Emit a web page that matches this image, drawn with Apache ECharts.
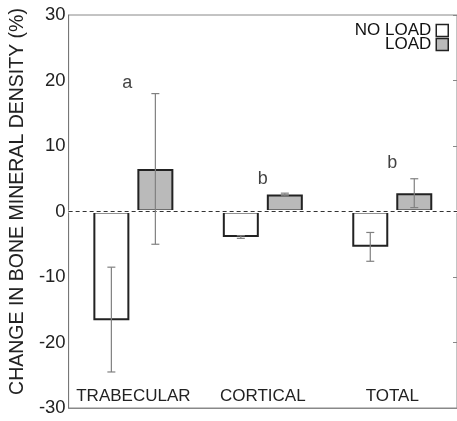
<!DOCTYPE html>
<html>
<head>
<meta charset="utf-8">
<script src="https://cdn.jsdelivr.net/npm/echarts@6/dist/echarts.min.js"></script>
<style>
  html, body { margin: 0; padding: 0; background: #fff; }
  #chart { width: 457px; height: 421px; }
</style>
</head>
<body>
<div id="chart"></div>
<script>
// 数据
var categories = ['TRABECULAR', 'CORTICAL', 'TOTAL'];
var noLoad = [-16.6, -3.9, -5.4];
var load = [6.5, 2.6, 2.8];
var noLoadLow = [-24.5, -4.1, -7.6];
var noLoadHigh = [-8.5, -3.7, -3.2];
var loadLow = [-5.0, 2.4, 0.6];
var loadHigh = [18.0, 2.8, 5.0];
var letters = ['a', 'b', 'b'];
var letterPos = [19.6, 4.9, 7.4];
var letterOffset = [-6, 0, 0];

var BAR_W = 36;
var GAP = 8;

var myChart = echarts.init(document.getElementById('chart'));

//误差线
function errData(lows, highs) {
    var out = [];
    lows.forEach(function(v, i) {
        out.push([i, v, highs[i]]);
    });
    return out;
}

function errRender(side) {
    return function(params, api) {
        var shift = side * (BAR_W / 2 + GAP / 2);
        var lo = api.coord([api.value(0), api.value(1)]);
        var hi = api.coord([api.value(0), api.value(2)]);
        var x = lo[0] + shift;
        var cap = 4;
        var st = { stroke: '#808080', lineWidth: 1.2 };
        return {
            type: 'group',
            children: [
                { type: 'line', shape: { x1: x, y1: lo[1], x2: x, y2: hi[1] }, style: st },
                { type: 'line', shape: { x1: x - cap, y1: lo[1], x2: x + cap, y2: lo[1] }, style: st },
                { type: 'line', shape: { x1: x - cap, y1: hi[1], x2: x + cap, y2: hi[1] }, style: st }
            ]
        };
    };
}

var option = {
    animation: false,
    textStyle: { fontFamily: 'Liberation Sans, Arial, sans-serif' },
    grid: { left: 66, right: -1, top: 15, bottom: 13, show: true, borderColor: '#888', borderWidth: 1 },
    legend: {
        orient: 'vertical',
        right: 3,
        top: 17,
        align: 'right',
        icon: 'rect',
        itemWidth: 12,
        itemHeight: 12,
        itemGap: -3,
        textStyle: { fontSize: 17, color: '#111', lineHeight: 14 },
        itemStyle: { borderWidth: 1.5, borderColor: '#222' },
        data: ['NO LOAD', 'LOAD']
    },
    xAxis: {
        type: 'category',
        data: categories,
        axisLine: { onZero: false, lineStyle: { color: '#888' } },
        axisTick: { show: false },
        axisLabel: { inside: true, interval: 0, margin: 3, fontSize: 17, color: '#222', verticalAlign: 'bottom' },
        splitLine: { show: false }
    },
    yAxis: [{
        type: 'value',
        min: -30,
        max: 30,
        interval: 10,
        name: 'CHANGE IN BONE MINERAL DENSITY (%)',
        nameLocation: 'middle',
        nameGap: 40,
        nameTextStyle: { fontSize: 19.5, color: '#222', padding: [0, 0, 0, 20] },
        axisLine: { show: true, lineStyle: { color: '#777' } },
        axisTick: { show: false },
        axisLabel: { fontSize: 18.5, color: '#222', margin: 3 },
        splitLine: { show: false }
    }, {
        type: 'value',
        position: 'right',
        min: -30,
        max: 30,
        interval: 10,
        axisLine: { show: true, lineStyle: { color: '#888' } },
        axisTick: { show: true, inside: true, length: 4, lineStyle: { color: '#888' } },
        axisLabel: { show: false },
        splitLine: { show: false }
    }],
    series: [{
        name: 'NO LOAD',
        type: 'bar',
        data: noLoad,
        barWidth: BAR_W,
        barGap: (GAP / BAR_W * 100) + '%',
        itemStyle: { color: '#fff', borderColor: '#222', borderWidth: 2, borderRadius: 0 },
        z: 2
    }, {
        name: 'LOAD',
        type: 'bar',
        data: load,
        barWidth: BAR_W,
        itemStyle: { color: '#bababa', borderColor: '#222', borderWidth: 2, borderRadius: 0 },
        //零线：先白线盖住柱子底边，再画虚线
        markLine: {
            silent: true,
            symbol: 'none',
            label: { show: false },
            data: [
                { yAxis: 0, lineStyle: { color: '#fff', type: 'solid', width: 3 } },
                { yAxis: 0, lineStyle: { color: '#333', type: [4, 3], width: 1 } }
            ]
        },
        z: 3
    }, {
        type: 'custom',
        data: errData(noLoadLow, noLoadHigh),
        renderItem: errRender(-1),
        z: 5
    }, {
        type: 'custom',
        data: errData(loadLow, loadHigh),
        renderItem: errRender(1),
        z: 5
    }, {
        type: 'scatter',
        symbolSize: 0,
        data: letterPos.map(function(v, i) {
            return { value: [i, v], label: { offset: [letterOffset[i], 0] } };
        }),
        label: {
            show: true,
            position: 'inside',
            fontSize: 18,
            color: '#111',
            formatter: function(p) { return letters[p.dataIndex]; }
        },
        z: 6
    }]
};

myChart.setOption(option);
</script>
</body>
</html>
